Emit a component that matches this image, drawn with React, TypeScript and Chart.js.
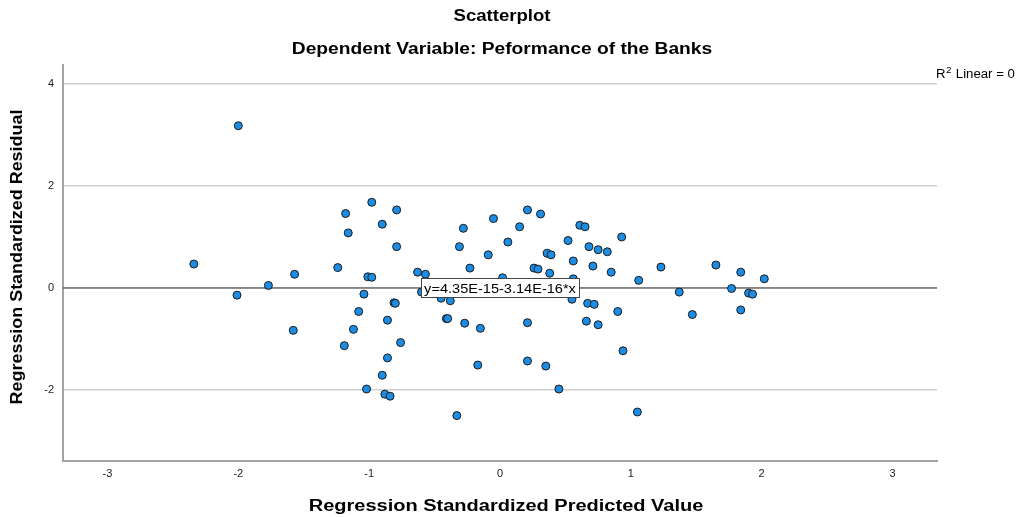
import React, { useEffect, useRef } from "react";
import { Chart, registerables } from "chart.js";

Chart.register(...registerables);

// ---- data ----
const predictedValues = [
  -2.0, -1.18, -1.16, -2.34, -1.24, -0.98, -0.79, -0.9, -0.79, -0.28,
  -0.31, -0.05, 0.21, 0.31, 0.15, 0.06, -0.09, 0.61, 0.65, 0.52,
  0.93, 0.68, 0.75, 0.82, 0.36, 0.39, 0.56, 0.71, 0.85, 0.26,
  0.29, -0.23, -0.63, -0.57, 0.38, 1.23, 1.65, 1.84, 2.02, 1.06,
  1.77, 1.37, 1.9, 1.93, 1.47, 1.84, 0.94, 1.05, -1.57, -1.77,
  -2.01, -1.08, -1.12, -1.58, -1.19, -1.01, -0.98, 0.02, 0.56, -1.04,
  -0.6, -0.45, -0.38, 0.55, 0.67, 0.72, -0.81, -0.8, 0.9, -0.86,
  -0.41, -0.4, -0.27, -0.15, 0.21, 0.66, 0.75, -0.76, -0.86, -0.9,
  -0.17, 0.21, 0.35, -1.02, 0.45, -0.88, -0.84, -0.33,
];
const residualValues = [
  3.18, 1.46, 1.08, 0.47, 0.4, 1.68, 1.53, 1.25, 0.81, 1.17,
  0.81, 1.36, 1.53, 1.45, 1.2, 0.9, 0.65, 1.23, 1.2, 0.93,
  1.0, 0.81, 0.75, 0.71, 0.68, 0.65, 0.53, 0.43, 0.31, 0.39,
  0.37, 0.39, 0.31, 0.27, 0.29, 0.41, 0.45, 0.31, 0.18, 0.15,
  -0.01, -0.08, -0.1, -0.12, -0.52, -0.43, -1.23, -2.43, 0.27, 0.05,
  -0.14, -0.46, -0.81, -0.83, -1.13, 0.22, 0.21, 0.2, 0.18, -0.12,
  -0.08, -0.2, -0.25, -0.22, -0.3, -0.32, -0.29, -0.3, -0.46, -0.63,
  -0.6, -0.6, -0.69, -0.79, -0.68, -0.65, -0.72, -1.07, -1.37, -1.71,
  -1.51, -1.43, -1.53, -1.98, -1.98, -2.08, -2.12, -2.5,
];
const xTickValues = [-3, -2, -1, 0, 1, 2, 3];
const yTickValues = [-2, 0, 2, 4];
const xRange = [-3.34, 3.34];
const yRange = [-3.39, 4.37];
const fitLineX = [-3.34, 3.34];
const fitLineY = [0, 0];

const titleText = "Scatterplot";
const subtitleText = "Dependent Variable: Peformance of the Banks";
const xAxisTitle = "Regression Standardized Predicted Value";
const yAxisTitle = "Regression Standardized Residual";
const fitLabel = "y=4.35E-15-3.14E-16*x";
const r2Main = "R";
const r2Sup = "2";
const r2Rest = " Linear = 0";

const FONT = '"Liberation Sans", Arial, sans-serif';

function stretchedText(
  ctx: CanvasRenderingContext2D,
  text: string,
  cx: number,
  cy: number,
  font: string,
  sx: number,
  rotate = 0
) {
  ctx.save();
  ctx.font = font;
  ctx.fillStyle = "#000";
  ctx.textAlign = "center";
  ctx.textBaseline = "middle";
  ctx.translate(cx, cy);
  if (rotate) ctx.rotate(rotate);
  ctx.scale(sx, 1);
  ctx.fillText(text, 0, 0);
  ctx.restore();
}

const textPlugin = {
  id: "spssText",
  afterDatasetsDraw(chart: any) {
    const { ctx, scales } = chart;
    const cx = scales.x.getPixelForValue(0);
    const cy = scales.y.getPixelForValue(0);
    ctx.save();
    const font = `13px ${FONT}`;
    ctx.font = font;
    const sx = 1.12;
    const w = Math.round(ctx.measureText(fitLabel).width * sx + 7);
    const h = 20;
    const left = Math.round(cx - w / 2);
    const top = Math.round(cy - h / 2);
    ctx.fillStyle = "#fff";
    ctx.fillRect(left, top, w, h);
    ctx.strokeStyle = "#444";
    ctx.lineWidth = 1;
    ctx.strokeRect(left + 0.5, top + 0.5, w - 1, h - 1);
    ctx.restore();
    stretchedText(ctx, fitLabel, cx, cy + 1, font, sx);
  },
  afterDraw(chart: any) {
    const { ctx } = chart;
    stretchedText(ctx, titleText, 502, 17, `bold 16px ${FONT}`, 1.16);
    stretchedText(ctx, subtitleText, 502, 50, `bold 16px ${FONT}`, 1.2);
    stretchedText(ctx, xAxisTitle, 506, 507, `bold 16px ${FONT}`, 1.25);
    stretchedText(ctx, yAxisTitle, 18, 257, `bold 16px ${FONT}`, 1.12, -Math.PI / 2);

    // R² Linear = 0
    ctx.save();
    ctx.fillStyle = "#000";
    ctx.textBaseline = "alphabetic";
    ctx.textAlign = "left";
    ctx.translate(936, 78);
    ctx.scale(1.1, 1);
    let x = 0;
    ctx.font = `12px ${FONT}`;
    ctx.fillText(r2Main, x, 0);
    x += ctx.measureText(r2Main).width + 0.5;
    ctx.font = `9px ${FONT}`;
    ctx.fillText(r2Sup, x, -5);
    x += ctx.measureText(r2Sup).width + 0.5;
    ctx.font = `12px ${FONT}`;
    ctx.fillText(r2Rest, x, 0);
    ctx.restore();
  },
};

export default function App() {
  const canvasRef = useRef<HTMLCanvasElement | null>(null);

  useEffect(() => {
    if (!canvasRef.current) return;
    const points = predictedValues.map((v, i) => ({ x: v, y: residualValues[i] }));
    const fitPoints = fitLineX.map((v, i) => ({ x: v, y: fitLineY[i] }));
    const chart = new Chart(canvasRef.current, {
      type: "scatter",
      data: {
        datasets: [
          {
            type: "scatter",
            label: "Residuals",
            data: points,
            backgroundColor: "#1c8de4",
            borderColor: "#1a1a1a",
            borderWidth: 1,
            pointRadius: 4,
            pointHoverRadius: 4,
            order: 0,
          },
          {
            type: "line",
            label: "Fit",
            data: fitPoints,
            borderColor: "#3a3a3a",
            borderWidth: 1.2,
            pointRadius: 0,
            fill: false,
            order: 1,
          } as any,
        ],
      },
      options: {
        animation: false,
        responsive: true,
        maintainAspectRatio: false,
        layout: { padding: { left: 0, right: 84, top: 65, bottom: 0 } },
        plugins: {
          legend: { display: false },
          title: { display: false },
          tooltip: { enabled: false },
        },
        scales: {
          x: {
            type: "linear",
            min: xRange[0],
            max: xRange[1],
            afterBuildTicks: (s: any) => {
              s.ticks = xTickValues.map((v) => ({ value: v }));
            },
            afterFit: (s: any) => {
              s.height = 56;
            },
            grid: { display: false, drawTicks: false },
            border: { display: true, color: "#a3a3a3", width: 2 },
            ticks: {
              color: "#222",
              font: { family: FONT, size: 11 },
              padding: 6,
              maxRotation: 0,
              callback: (v: any) => String(v),
            },
          },
          y: {
            type: "linear",
            min: yRange[0],
            max: yRange[1],
            afterBuildTicks: (s: any) => {
              s.ticks = yTickValues.map((v) => ({ value: v }));
            },
            afterFit: (s: any) => {
              s.width = 63;
            },
            grid: { display: true, color: "#cfcfcf", lineWidth: 1.5, drawTicks: false },
            border: { display: true, color: "#a3a3a3", width: 2 },
            ticks: {
              color: "#222",
              font: { family: FONT, size: 11 },
              padding: 9,
              callback: (v: any) => String(v),
            },
          },
        },
      },
      plugins: [textPlugin],
    });
    return () => chart.destroy();
  }, []);

  return (
    <div style={{ position: "fixed", left: 0, top: 0, width: 1021, height: 517, background: "#fff" }}>
      <canvas ref={canvasRef} />
    </div>
  );
}
